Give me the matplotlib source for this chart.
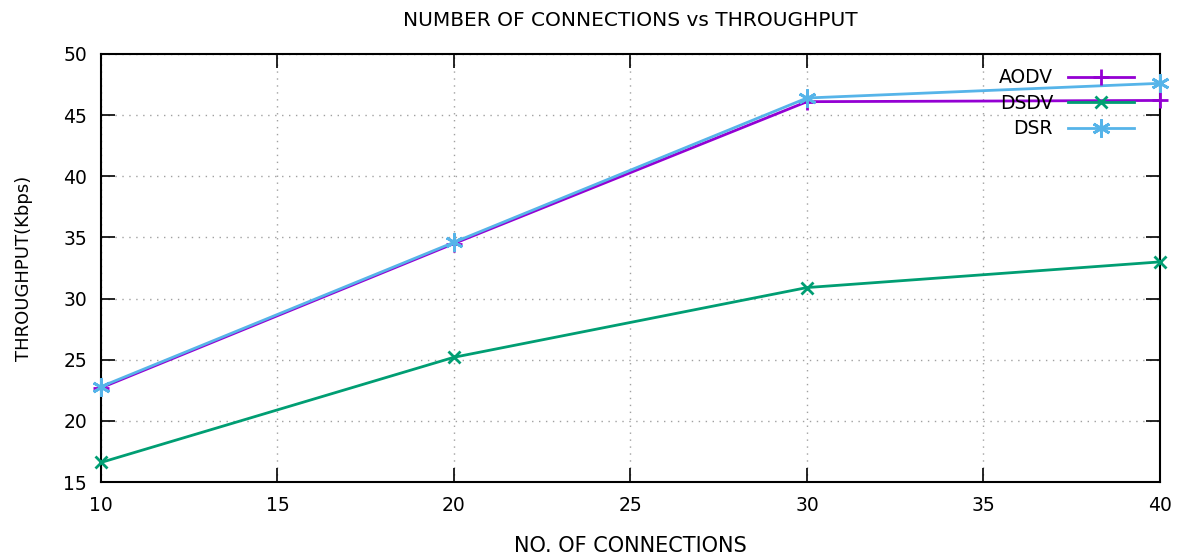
import matplotlib.pyplot as plt

connections = [10, 20, 30, 40]
aodv = [22.7, 34.5, 46.1, 46.2]
dsdv = [16.6, 25.2, 30.9, 33.0]
dsr = [22.8, 34.6, 46.4, 47.6]

plt.rcParams['font.family'] = ['DejaVu Sans']

fig = plt.figure(figsize=(11.78, 5.57), dpi=100)
ax = fig.add_axes([0.0857, 0.1346, 0.899, 0.7685])

ax.plot(connections, aodv, color="#9400d3", marker="+", markersize=12, markeredgewidth=2,
        linewidth=2, label="AODV", clip_on=False, zorder=3)
ax.plot(connections, dsdv, color="#009e73", marker="x", markersize=9, markeredgewidth=2,
        linewidth=2, label="DSDV", clip_on=False, zorder=3)
ax.plot(connections, dsr, color="#56b4e9", marker=(6, 2, 0), markersize=13, markeredgewidth=2,
        linewidth=2, label="DSR", clip_on=False, zorder=3)

ax.set_xlim(10, 40)
ax.set_ylim(15, 50)
ax.set_xticks([10, 15, 20, 25, 30, 35, 40])
ax.set_yticks([15, 20, 25, 30, 35, 40, 45, 50])
ax.tick_params(direction="in", length=10, width=1.2, top=True, right=True, labelsize=13.5, pad=10)
ax.grid(True, color="#a0a0a0", linestyle=(0, (1, 4)), linewidth=1)
for s in ax.spines.values():
    s.set_linewidth(1.5)

ax.set_title("NUMBER OF CONNECTIONS vs THROUGHPUT", fontsize=14.5, pad=20)
ax.set_xlabel("NO. OF CONNECTIONS", fontsize=15, labelpad=15)
ax.set_ylabel("THROUGHPUT(Kbps)", fontsize=13, labelpad=22)

ax.legend(loc="upper right", bbox_to_anchor=(1.0, 1.028), frameon=False, markerfirst=False,
          fontsize=13.5, handlelength=3.5, labelspacing=0.35, borderaxespad=1.0, handletextpad=0.8)

plt.savefig("out.png", dpi=100)
